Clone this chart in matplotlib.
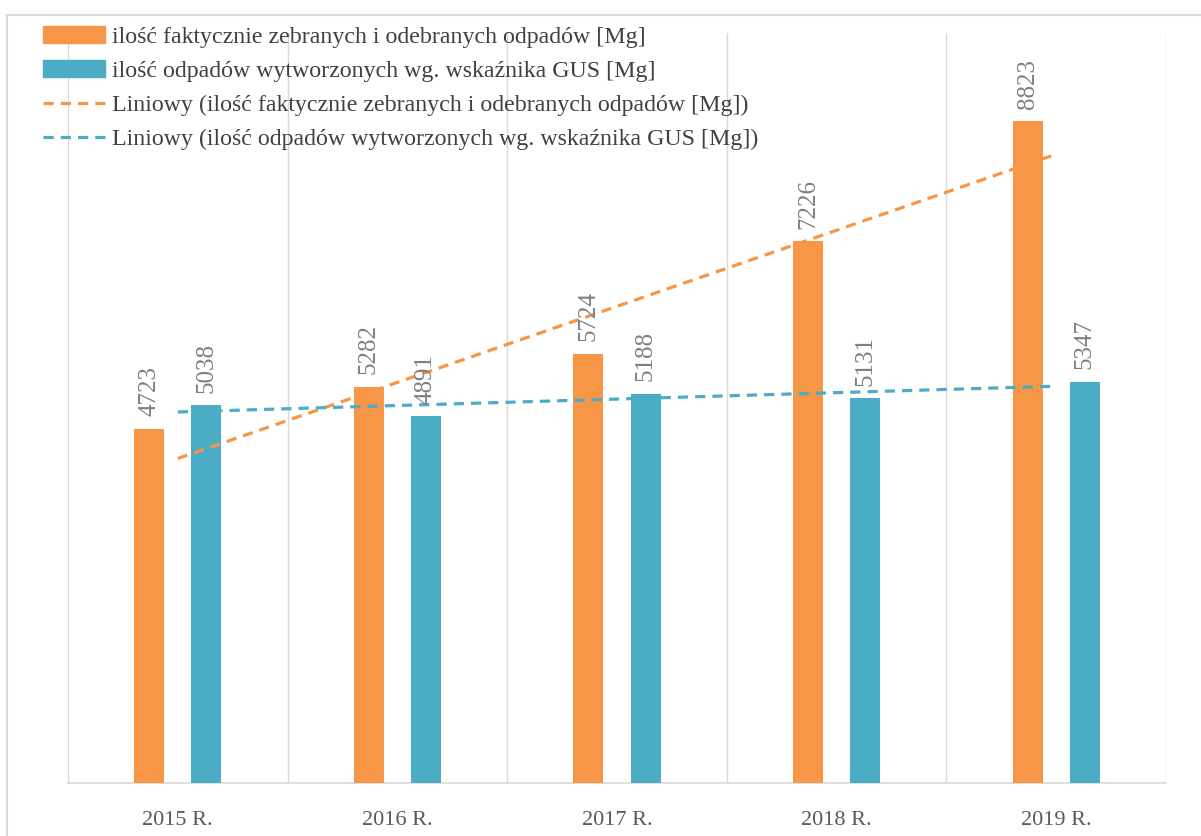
import numpy as np
import matplotlib
matplotlib.use("Agg")
import matplotlib.pyplot as plt
from matplotlib.patches import Rectangle, Patch
from matplotlib.lines import Line2D

categories = ["2015 R.", "2016 R.", "2017 R.", "2018 R.", "2019 R."]
collected = [4723, 5282, 5724, 7226, 8823]
gus = [5038, 4891, 5188, 5131, 5347]
name_collected = "ilość faktycznie zebranych i odebranych odpadów [Mg]"
name_gus = "ilość odpadów wytworzonych wg. wskaźnika GUS [Mg]"

ORANGE = "#F79646"
BLUE = "#4BACC6"
FONT = "Liberation Serif"

fig = plt.figure(figsize=(12.01, 8.36), dpi=100)
fig.patches.append(Rectangle((7/1201, -0.1), 1.2, (836-15)/836 + 0.1,
                             transform=fig.transFigure, fill=False,
                             edgecolor="#d9d9d9", linewidth=1.5))
ax = fig.add_axes([68/1201, (836-783)/836, (1166-68)/1201, (783-33)/836])

x = np.arange(len(categories))
w = 0.137
off = 0.13
b1 = ax.bar(x - off, collected, w, color=ORANGE, zorder=3)
b2 = ax.bar(x + off, gus, w, color=BLUE, zorder=3)

for bars, vals in ((b1, collected), (b2, gus)):
    for r, v in zip(bars, vals):
        ax.annotate(str(v), (r.get_x() + r.get_width()/2, v),
                    xytext=(0, 9), textcoords="offset points",
                    rotation=90, ha="center", va="bottom",
                    fontsize=18, color="#7f7f7f", family=FONT, zorder=5)

# linear trendlines
for vals, col in ((collected, ORANGE), (gus, BLUE)):
    p = np.polyfit(x, vals, 1)
    ax.plot(x, np.polyval(p, x), linestyle=(0, (3.2, 2.2)), color=col,
            linewidth=2.3, zorder=4)

ax.set_xlim(-0.5, len(categories) - 0.5)
ax.set_ylim(0, 10000)
ax.set_xticks(x)
ax.set_xticklabels(categories, family=FONT, fontsize=16, color="#595959")
ax.tick_params(axis="x", length=0, pad=20)
ax.set_yticks([])
ax.set_xticks(np.arange(-0.5, len(categories)), minor=True)
ax.tick_params(axis="x", which="minor", length=0)
ax.grid(True, axis="x", which="minor", color="#d9d9d9", linewidth=1, zorder=0)
for s in ("top", "right", "left"):
    ax.spines[s].set_visible(False)
ax.spines["bottom"].set_color("#d9d9d9")
ax.spines["bottom"].set_linewidth(1.2)

handles = [Patch(color=ORANGE), Patch(color=BLUE),
           Line2D([], [], color=ORANGE, linestyle=(0, (3.2, 2.2)), linewidth=2.3),
           Line2D([], [], color=BLUE, linestyle=(0, (3.2, 2.2)), linewidth=2.3)]
labels = [name_collected, name_gus,
          "Liniowy (" + name_collected + ")", "Liniowy (" + name_gus + ")"]
leg = fig.legend(handles, labels, loc="upper left",
                 bbox_to_anchor=(31/1201, 1 - 14/836), frameon=False,
                 prop={"family": FONT, "size": 17.2}, handlelength=2.6,
                 handleheight=0.75, labelspacing=0.5, handletextpad=0.3,
                 borderpad=0)
for t in leg.get_texts():
    t.set_color("#404040")

fig.savefig("out.png", dpi=100)
